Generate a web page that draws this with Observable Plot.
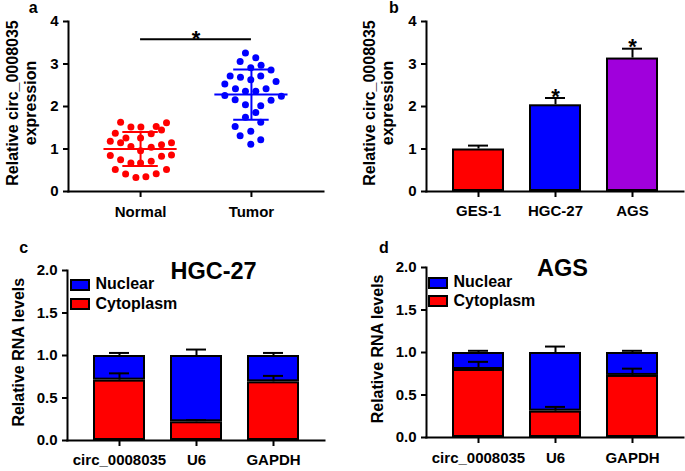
<!DOCTYPE html>
<html><head><meta charset="utf-8">
<script src="https://cdn.jsdelivr.net/npm/d3@7"></script>
<script src="https://cdn.jsdelivr.net/npm/@observablehq/plot@0.6"></script>
<style>
body{margin:0;background:#fff;}
#fig{position:relative;width:685px;height:471px;overflow:hidden;font-family:"Liberation Sans",Arial,sans-serif;font-weight:bold;color:#000;}
.lbl{position:absolute;line-height:1;white-space:nowrap;}
.sw{position:absolute;box-sizing:border-box;border:2px solid #000;}
</style></head><body><div id="fig"></div>
<script>
// ---------- Panel a data ----------
const groups = ["Normal", "Tumor"];
const groupColors = ["#ff0000", "#0000ff"];
const normalValues = [1.63,1.62,1.52,1.52,1.53,1.45,1.37,1.36,1.26,1.26,1.18,1.15,1.15,1.10,1.06,1.04,0.96,0.85,0.83,0.86,0.75,0.71,0.67,0.67,0.52,0.52,0.41,0.42,0.33,0.35];
const normalJitter = [-0.18,0.234,-0.087,0.003,0.141,0.189,-0.228,0.096,-0.132,0,-0.273,-0.18,0.279,0.189,-0.087,0.096,0,-0.273,0.189,0.279,-0.18,0.096,-0.087,0,-0.228,0.234,-0.135,0.141,-0.042,0.048];
const tumorValues = [3.26,3.15,3.06,2.97,2.91,2.86,2.72,2.69,2.72,2.63,2.59,2.53,2.42,2.42,2.36,2.36,2.26,2.24,2.16,2.15,2.04,2.02,1.86,1.75,1.63,1.53,1.42,1.31,1.22,1.11];
const tumorJitter = [-0.054,0.039,-0.102,0.087,-0.006,0.177,-0.192,-0.099,0.084,-0.006,0.222,-0.24,-0.144,0.132,-0.054,0.039,-0.24,0.27,-0.147,0.177,-0.054,0.084,0.039,-0.054,0.084,-0.147,-0.006,-0.102,0.084,-0.006];
const groupMeans = [1.00, 2.28];
const groupSD = [0.40, 0.59];
const sigFrom = "Normal", sigTo = "Tumor", sigLevel = 3.58;
const yTicksAB = [0, 1, 2, 3, 4];
const yLabelAB = "Relative circ_0008035\nexpression";

// ---------- Panel b data ----------
const cellLines = ["GES-1", "HGC-27", "AGS"];
const cellExpr = [1.00, 2.04, 3.14];
const cellSem = [0.08, 0.16, 0.22];
const cellColors = ["#ff0000", "#0000ff", "#a000dc"];
const cellSig = [false, true, true];

// ---------- Panels c, d data ----------
const genes = ["circ_0008035", "U6", "GAPDH"];
const fractions = ["Cytoplasm", "Nuclear"];
const fractionColors = ["#ff0000", "#0000ff"];
const hgcCyto = [0.71, 0.22, 0.69];
const hgcNuc = [0.29, 0.78, 0.31];
const hgcCytoSem = [0.08, 0.02, 0.07];
const hgcNucSem = [0.03, 0.07, 0.03];
const agsCyto = [0.80, 0.31, 0.73];
const agsNuc = [0.20, 0.69, 0.27];
const agsCytoSem = [0.09, 0.05, 0.08];
const agsNucSem = [0.02, 0.07, 0.02];
const yTicksCD = [0, 0.5, 1.0, 1.5, 2.0];
const yLabelCD = "Relative RNA levels";

const FONT = "'Liberation Sans', Arial, sans-serif";
const fig = document.getElementById("fig");
function style() {
  return {fontFamily: FONT, fontWeight: "bold", fontSize: "15px", color: "#000", background: "transparent", overflow: "visible"};
}
function place(svg, left, top) {
  svg.style.position = "absolute";
  svg.style.left = left + "px";
  svg.style.top = top + "px";
  fig.appendChild(svg);
}
function frames() {
  return [Plot.frame({anchor: "left", strokeWidth: 2}), Plot.frame({anchor: "bottom", strokeWidth: 2})];
}
function yLabel(text, dx, dy) {
  return Plot.text([text], {frameAnchor: "left", textAnchor: "middle", lineAnchor: "middle", text: d => d, rotate: -90, dx, dy, fontSize: 16, lineHeight: 1.12, fill: "black"});
}

// ---------- Panel a ----------
const ptsA = [
  ...normalValues.map((v, i) => ({x: 1 + normalJitter[i], v, c: groupColors[0]})),
  ...tumorValues.map((v, i) => ({x: 2 + tumorJitter[i], v, c: groupColors[1]}))
];
const MEANW = 0.33, SDW = 0.16;
const statsA = groups.map((g, i) => ({g: i + 1, mean: groupMeans[i], lo: groupMeans[i] - groupSD[i], hi: groupMeans[i] + groupSD[i], c: groupColors[i]}));
const sigA = [{a: groups.indexOf(sigFrom) + 1, b: groups.indexOf(sigTo) + 1, v: sigLevel}];
const plotA = Plot.plot({
  width: 340, height: 230, marginLeft: 68, marginRight: 17, marginTop: 21, marginBottom: 39,
  style: style(),
  x: {domain: [0.35, 2.65]},
  y: {domain: [0, 4]},
  color: {type: "identity"},
  marks: [
    ...frames(),
    Plot.axisY({ticks: yTicksAB, tickFormat: "d", tickSize: 5, tickPadding: 5, strokeWidth: 2, label: null, fontSize: 15}),
    Plot.axisX({ticks: [1, 2], tickFormat: d => groups[d - 1], tickSize: 6, tickPadding: 9, strokeWidth: 2, label: null, fontSize: 15}),
    Plot.dot(ptsA, {x: "x", y: "v", r: 3.5, fill: "c", stroke: null}),
    Plot.ruleY(statsA, {y: "mean", x1: d => d.g - MEANW, x2: d => d.g + MEANW, stroke: "c", strokeWidth: 2}),
    Plot.ruleY(statsA, {y: "hi", x1: d => d.g - SDW, x2: d => d.g + SDW, stroke: "c", strokeWidth: 2}),
    Plot.ruleY(statsA, {y: "lo", x1: d => d.g - SDW, x2: d => d.g + SDW, stroke: "c", strokeWidth: 2}),
    Plot.ruleX(statsA, {x: "g", y1: "lo", y2: "hi", stroke: "c", strokeWidth: 2}),
    Plot.ruleY(sigA, {y: "v", x1: "a", x2: "b", stroke: "black", strokeWidth: 2}),
    Plot.text(sigA, {x: d => (d.a + d.b) / 2, y: "v", text: () => "*", fontSize: 22, dy: 0, fill: "black"}),
    yLabel(yLabelAB, -47.6, -3.5)
  ]
});
place(plotA, 0, 0);

// ---------- Panel b ----------
const dataB = cellLines.map((c, i) => ({c, v: cellExpr[i], top: cellExpr[i] + cellSem[i], col: cellColors[i], sig: cellSig[i]}));
const plotB = Plot.plot({
  width: 345, height: 230, marginLeft: 86, marginRight: 2, marginTop: 21, marginBottom: 39,
  style: style(),
  x: {domain: cellLines, padding: 0.33},
  y: {domain: [0, 4]},
  color: {type: "identity"},
  marks: [
    Plot.ruleX(dataB, {x: "c", y1: "v", y2: "top", stroke: "black", strokeWidth: 2}),
    Plot.tickY(dataB, {x: "c", y: "top", inset: 16, stroke: "black", strokeWidth: 2}),
    Plot.barY(dataB, {x: "c", y: "v", fill: "col", stroke: "black", strokeWidth: 2, inset: 1}),
    ...frames(),
    Plot.axisY({ticks: yTicksAB, tickFormat: "d", tickSize: 5, tickPadding: 5, strokeWidth: 2, label: null, fontSize: 15}),
    Plot.axisX({tickSize: 6, tickPadding: 8, strokeWidth: 2, label: null, fontSize: 15}),
    Plot.text(dataB.filter(d => d.sig), {x: "c", y: "top", text: () => "*", fontSize: 22, dy: -1.5, fill: "black"}),
    yLabel(yLabelAB, -48.2, -3.5)
  ]
});
place(plotB, 340, 0);

// ---------- Panels c, d ----------
function fractionPlot(cyto, nuc, cytoSem, nucSem, opts) {
  const rows = [
    ...genes.map((g, i) => ({g, part: fractions[0], v: cyto[i]})),
    ...genes.map((g, i) => ({g, part: fractions[1], v: nuc[i]}))
  ];
  const errs = [
    ...genes.map((g, i) => ({g, base: cyto[i], top: cyto[i] + cytoSem[i]})),
    ...genes.map((g, i) => ({g, base: cyto[i] + nuc[i], top: cyto[i] + nuc[i] + nucSem[i]}))
  ];
  return Plot.plot({
    width: opts.width, height: 241, marginLeft: opts.ml, marginRight: opts.mr, marginTop: opts.mt, marginBottom: opts.mb,
    style: style(),
    x: {domain: genes, padding: 0.33},
    y: {domain: [0, 2]},
    color: {domain: fractions, range: fractionColors},
    marks: [
      Plot.barY(rows, {x: "g", y: "v", fill: "part", stroke: "black", strokeWidth: 2, inset: 1}),
      Plot.ruleX(errs, {x: "g", y1: "base", y2: "top", stroke: "black", strokeWidth: 2}),
      Plot.tickY(errs, {x: "g", y: "top", inset: 16, stroke: "black", strokeWidth: 2}),
      ...frames(),
      Plot.axisY({ticks: yTicksCD, tickFormat: ".1f", tickSize: 5, tickPadding: 5, strokeWidth: 2, label: null, fontSize: 15}),
      Plot.axisX({tickSize: 6, tickPadding: opts.tp, strokeWidth: 2, label: null, fontSize: 15}),
      yLabel(yLabelCD, opts.ldx, opts.ldy)
    ]
  });
}
place(fractionPlot(hgcCyto, hgcNuc, hgcCytoSem, hgcNucSem, {width: 340, ml: 67, mr: 16, mt: 40, mb: 31, tp: 8, ldx: -48.8, ldy: -3.3}), 0, 230);
place(fractionPlot(agsCyto, agsNuc, agsCytoSem, agsNucSem, {width: 345, ml: 86, mr: 2, mt: 37, mb: 34, tp: 9, ldx: -49.4, ldy: -3.6}), 340, 230);

// ---------- HTML text: panel letters, titles, legends ----------
function label(text, left, baseline, size, extra) {
  const d = document.createElement("div");
  d.className = "lbl";
  d.textContent = text;
  d.style.fontSize = size + "px";
  d.style.top = (baseline - 0.8465 * size) + "px";
  if (extra && extra.center != null) {
    d.style.left = (extra.center - 150) + "px";
    d.style.width = "300px";
    d.style.textAlign = "center";
  } else {
    d.style.left = left + "px";
  }
  fig.appendChild(d);
}
label("a", 28.7, 13.3, 16);
label("b", 389, 13.3, 16);
label("c", 19.3, 253.3, 16);
label("d", 379, 253.3, 16);
label("HGC-27", 0, 280, 23.5, {center: 213.5});
label("AGS", 0, 276.7, 23.5, {center: 562.5});

function legend(x, textX, baselines, tops) {
  const order = [fractions[1], fractions[0]];
  order.forEach((f, i) => {
    const s = document.createElement("div");
    s.className = "sw";
    s.style.left = x + "px";
    s.style.top = tops[i] + "px";
    s.style.width = "20px";
    s.style.height = "12px";
    s.style.background = fractionColors[fractions.indexOf(f)];
    fig.appendChild(s);
    label(f, textX, baselines[i], 16);
  });
}
legend(70, 95.5, [290, 309.3], [278.5, 298]);
legend(428, 453.5, [287.3, 306.7], [276.5, 295]);
</script>
</body></html>
